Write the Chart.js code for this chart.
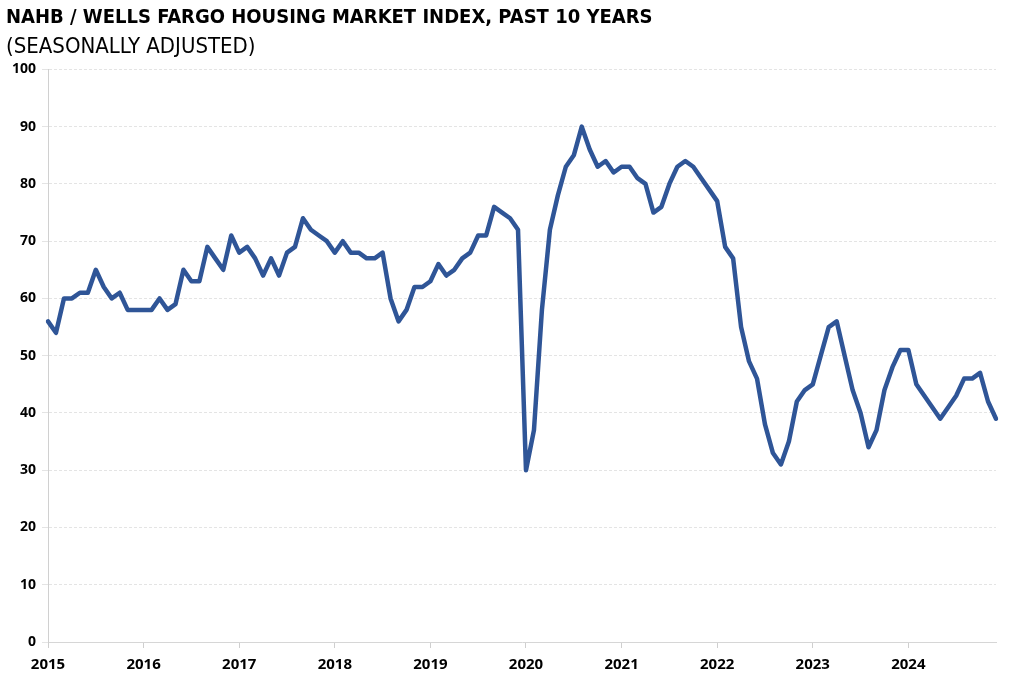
<!DOCTYPE html>
<html>
<head>
<meta charset="utf-8">
<script src="https://cdn.jsdelivr.net/npm/chart.js@4.4.1/dist/chart.umd.min.js"></script>
<style>
  html,body{margin:0;padding:0;background:#fff}
  #wrap{width:1024px;height:692px}
</style>
</head>
<body>
<div id="wrap"><canvas id="chart"></canvas></div>
<script>
/* NAHB / Wells Fargo HMI, 120 monthly points */
const years  = ['2015','2016','2017','2018','2019','2020','2021','2022','2023','2024'];
const months = ['Jan','Feb','Mar','Apr','May','Jun','Jul','Aug','Sep','Oct','Nov','Dec'];

// one row per axis year (12 points each)
const hmi = [
  56,54,60,60,61,61,65,62,60,61,58,58,
  58,58,60,58,59,65,63,63,69,67,65,71,
  68,69,67,64,67,64,68,69,74,72,71,70,
  68,70,68,68,67,67,68,60,56,58,62,62,
  63,66,64,65,67,68,71,71,76,75,74,72,
  30,37,58,72,78,83,85,90,86,83,84,82,
  83,83,81,80,75,76,80,83,84,83,81,79,
  77,69,67,55,49,46,38,33,31,35,42,44,
  45,50,55,56,50,44,40,34,37,44,48,51,
  51,45,43,41,39,41,43,46,46,47,42,39
];

const titleText = 'NAHB / WELLS FARGO HOUSING MARKET INDEX, PAST 10 YEARS';
const subText   = '(SEASONALLY ADJUSTED)';

const labels = years.flatMap(y => months.map(m => m + ' ' + y));

const FONT = "'Liberation Sans Narrow','DejaVu Sans Condensed','Open Sans',sans-serif";
const TICKFONT = "'Open Sans','Liberation Sans',sans-serif";

const cvs = document.getElementById('chart');
new Chart(cvs, {
  type: 'line',
  data: {
    labels,
    datasets: [{
      data: hmi,
      borderColor: '#2F5597',
      borderWidth: 4.5,
      pointRadius: 0,
      tension: 0,
      borderJoinStyle: 'round',
      borderCapStyle: 'round',
      fill: false
    }]
  },
  options: {
    responsive: true, maintainAspectRatio: false, animation: false,
    layout: {padding: {left: 6, right: 28, top: 0, bottom: 10}},
    plugins: {
      legend: {display: false},
      tooltip: {enabled: false},
      title: {display: true, text: titleText, align: 'start', color: '#000',
        font: {family: FONT, size: 20, weight: 'bold'}, padding: {top: 6, bottom: 4}},
      subtitle: {display: true, text: subText, align: 'start', color: '#000',
        font: {family: FONT, size: 22, weight: 'normal'}, padding: {top: 0, bottom: 9}}
    },
    scales: {
      x: {
        type: 'category', offset: false,
        grid: {drawOnChartArea: false, drawTicks: true, tickLength: 6,
          color: c => (c.index % 12 === 0 ? '#cfcfcf' : 'rgba(0,0,0,0)')},
        border: {display: true, color: '#d6d6d6', width: 1},
        ticks: {autoSkip: false, maxRotation: 0, minRotation: 0, padding: 8, color: '#000',
          font: {family: TICKFONT, size: 15, weight: 'bold'},
          callback: (v, i) => (i % 12 === 0 ? years[i / 12] : '')}
      },
      y: {
        min: 0, max: 100,
        grid: {color: '#e4e4e4', tickLength: 6, drawTicks: true},
        border: {display: true, color: '#d0d0d0', dash: [3, 2]},
        ticks: {stepSize: 10, padding: 6, color: '#000',
          font: {family: TICKFONT, size: 14, weight: 'bold'}}
      }
    }
  }
});
</script>
</body>
</html>
